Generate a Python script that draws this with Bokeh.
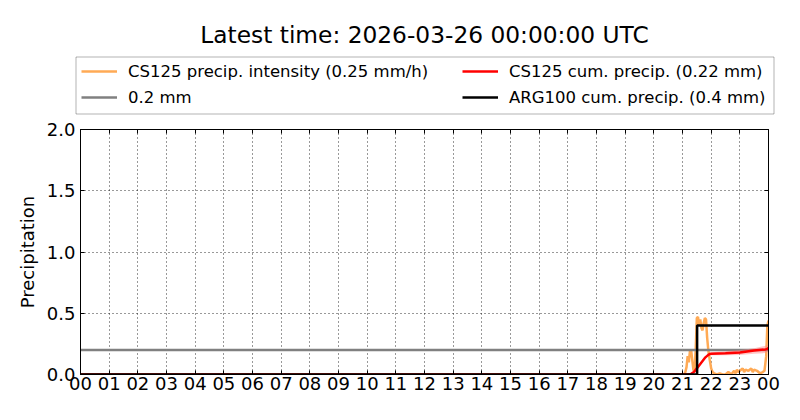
from bokeh.plotting import figure
from bokeh.layouts import column
from bokeh.models import (Range1d, FixedTicker, LinearAxis, Legend, LegendItem, Label, BoxAnnotation)
from bokeh.embed import file_html
from bokeh.resources import INLINE

# ---------------- data ----------------
title_text = "Latest time: 2026-03-26 00:00:00 UTC"
hour_ticks = [0, 1, 2, 3, 4, 5, 6, 7, 8, 9, 10, 11, 12, 13, 14, 15, 16, 17, 18, 19, 20, 21, 22, 23, 24]
hour_labels = ["00", "01", "02", "03", "04", "05", "06", "07", "08", "09", "10", "11", "12",
               "13", "14", "15", "16", "17", "18", "19", "20", "21", "22", "23", "00"]
y_ticks = [0.0, 0.5, 1.0, 1.5, 2.0]

intensity_hours = [0.0, 21.05, 21.10, 21.14, 21.18, 21.22, 21.26, 21.30, 21.34, 21.38, 21.42,
                   21.46, 21.50, 21.54, 21.58, 21.62, 21.66, 21.70, 21.74, 21.78, 21.82, 21.86,
                   21.90, 21.95, 22.00, 22.05, 22.10, 22.20, 22.30, 22.40, 22.50, 22.60, 22.70,
                   22.80, 22.85, 22.90, 22.95, 23.00, 23.10, 23.15, 23.20, 23.30, 23.40, 23.45,
                   23.50, 23.60, 23.70, 23.80, 23.86, 23.92, 23.96, 24.00]
intensity_vals = [0.0, 0.0, 0.02, 0.06, 0.15, 0.10, 0.19, 0.20, 0.12, 0.04, 0.02,
                  0.20, 0.46, 0.47, 0.40, 0.45, 0.38, 0.36, 0.42, 0.46, 0.45, 0.30,
                  0.20, 0.12, 0.05, 0.02, 0.01, 0.0, 0.01, 0.0, 0.0, 0.02, 0.0,
                  0.03, 0.01, 0.04, 0.02, 0.03, 0.05, 0.02, 0.04, 0.03, 0.05, 0.02,
                  0.04, 0.03, 0.01, 0.02, 0.03, 0.15, 0.40, 0.44]

cum_hours = [0.0, 21.2, 21.3, 21.4, 21.5, 21.6, 21.7, 21.8, 21.9, 21.95, 22.0, 22.5, 23.0, 23.5,
             23.9, 23.98, 24.0]
cum_vals = [0.0, 0.0, 0.005, 0.02, 0.05, 0.08, 0.11, 0.14, 0.16, 0.168, 0.17, 0.174, 0.18, 0.195,
            0.205, 0.21, 0.22]

band_hours = [21.9, 22.0, 22.5, 23.0, 23.5, 23.9, 24.0]
band_lower = [0.155, 0.158, 0.158, 0.16, 0.17, 0.175, 0.185]
band_upper = [0.165, 0.182, 0.19, 0.20, 0.215, 0.235, 0.25]

arg_hours = [0.0, 21.51, 21.51, 24.0]
arg_vals = [0.0, 0.0, 0.4, 0.4]

thresh_hours = [0.0, 24.0]
thresh_vals = [0.2, 0.2]

legend_labels = ["CS125 precip. intensity (0.25 mm/h)", "0.2 mm",
                 "CS125 cum. precip. (0.22 mm)", "ARG100 cum. precip. (0.4 mm)"]

FONT = "DejaVu Sans"
C_INT, C_THR, C_CUM, C_ARG = "#ffaa55", "#808080", "#ff0000", "black"
NAN = float("nan")

# ---------------- header (title + legend) ----------------
TOP_H = 120
ph = figure(width=800, height=TOP_H, output_backend="svg", toolbar_location=None,
            x_range=Range1d(0, 800), y_range=Range1d(0, TOP_H),
            x_axis_type=None, y_axis_type=None, title=None,
            min_border=0, min_border_left=0, min_border_right=0,
            min_border_top=0, min_border_bottom=0)
ph.frame_align = False
ph.outline_line_color = None
ph.xgrid.visible = False
ph.ygrid.visible = False
ph.background_fill_color = "white"
ph.border_fill_color = "white"

# legend-only renderers (a single NaN point draws nothing on the canvas)
d_int = ph.line(x=[NAN], y=[NAN], line_color=C_INT, line_width=2.5)
d_thr = ph.line(x=[NAN], y=[NAN], line_color=C_THR, line_width=2.5)
d_cum = ph.line(x=[NAN], y=[NAN], line_color=C_CUM, line_width=2.5)
d_arg = ph.line(x=[NAN], y=[NAN], line_color=C_ARG, line_width=2.5)

ph.add_layout(Label(x=424, y=TOP_H - 33.5, text=title_text, text_font=FONT,
                    text_font_size="23.3px", text_align="center",
                    text_baseline="alphabetic", text_color="black"))

ph.add_layout(BoxAnnotation(left=75.5, right=773.5, bottom=TOP_H - 113.5, top=TOP_H - 56.5,
                            fill_alpha=0, line_color="black", line_width=1))


def make_legend(items, x):
    lg = Legend(items=items, location=(x, 13), orientation="vertical")
    lg.label_text_font = FONT
    lg.label_text_font_size = "16.5px"
    lg.label_text_color = "black"
    lg.glyph_width = 36
    lg.glyph_height = 20
    lg.label_height = 20
    lg.label_standoff = 11
    lg.spacing = 6
    lg.padding = 0
    lg.margin = 0
    lg.border_line_color = None
    lg.background_fill_alpha = 0
    return lg


ph.add_layout(make_legend([LegendItem(label=legend_labels[0], renderers=[d_int]),
                           LegendItem(label=legend_labels[1], renderers=[d_thr])], 81), "center")
ph.add_layout(make_legend([LegendItem(label=legend_labels[2], renderers=[d_cum]),
                           LegendItem(label=legend_labels[3], renderers=[d_arg])], 462), "center")

# ---------------- main plot ----------------
p = figure(width=800, height=280, output_backend="svg", toolbar_location=None,
           x_range=Range1d(0, 24), y_range=Range1d(0, 2), title=None,
           min_border_left=80, min_border_right=32, min_border_top=9, min_border_bottom=26)
p.frame_align = False
p.background_fill_color = "white"
p.border_fill_color = "white"
p.outline_line_color = "black"
p.outline_line_width = 1
p.outline_line_alpha = 1

p.line(intensity_hours, intensity_vals, line_color=C_INT, line_width=2.5)
p.line(thresh_hours, thresh_vals, line_color=C_THR, line_width=2.5)
p.varea(x=band_hours, y1=band_lower, y2=band_upper, fill_color="#ff7f7f", fill_alpha=0.45)
p.line(cum_hours, cum_vals, line_color=C_CUM, line_width=2.5)
p.line(arg_hours, arg_vals, line_color=C_ARG, line_width=2.5)

xa = p.xaxis[0]
xa.ticker = FixedTicker(ticks=hour_ticks)
xa.major_label_overrides = {t: l for t, l in zip(hour_ticks, hour_labels)}
ya = p.yaxis[0]
ya.ticker = FixedTicker(ticks=y_ticks)
ya.major_label_overrides = {t: f"{t:.1f}" for t in y_ticks}
ya.axis_label = "Precipitation"
ya.axis_label_text_font = FONT
ya.axis_label_text_font_size = "18px"
ya.axis_label_text_font_style = "normal"
ya.axis_label_text_color = "black"
ya.axis_label_standoff = 6
for ax in (xa, ya):
    ax.major_tick_in = 4
    ax.major_tick_out = 0
    ax.minor_tick_in = 0
    ax.minor_tick_out = 0
    ax.axis_line_color = "black"
    ax.major_tick_line_color = "black"
    ax.major_label_text_font = FONT
    ax.major_label_text_font_size = "18px"
    ax.major_label_text_color = "black"
xa.major_label_standoff = 2
ya.major_label_standoff = 5

top_ax = LinearAxis(ticker=FixedTicker(ticks=hour_ticks), major_tick_in=4, major_tick_out=0,
                    minor_tick_in=0, minor_tick_out=0, major_label_text_font_size="0px",
                    major_label_text_alpha=0, major_label_standoff=0)
right_ax = LinearAxis(ticker=FixedTicker(ticks=y_ticks), major_tick_in=4, major_tick_out=0,
                      minor_tick_in=0, minor_tick_out=0, major_label_text_font_size="0px",
                      major_label_text_alpha=0, major_label_standoff=0)
p.add_layout(top_ax, "above")
p.add_layout(right_ax, "right")

for g in (p.xgrid[0], p.ygrid[0]):
    g.grid_line_color = "black"
    g.grid_line_dash = "1 3"
    g.grid_line_width = 1
    g.grid_line_alpha = 0.8
p.xgrid[0].ticker = FixedTicker(ticks=hour_ticks)
p.ygrid[0].ticker = FixedTicker(ticks=y_ticks)

layout = column(ph, p, spacing=0)
open("out.html", "w").write(file_html(layout, INLINE))
